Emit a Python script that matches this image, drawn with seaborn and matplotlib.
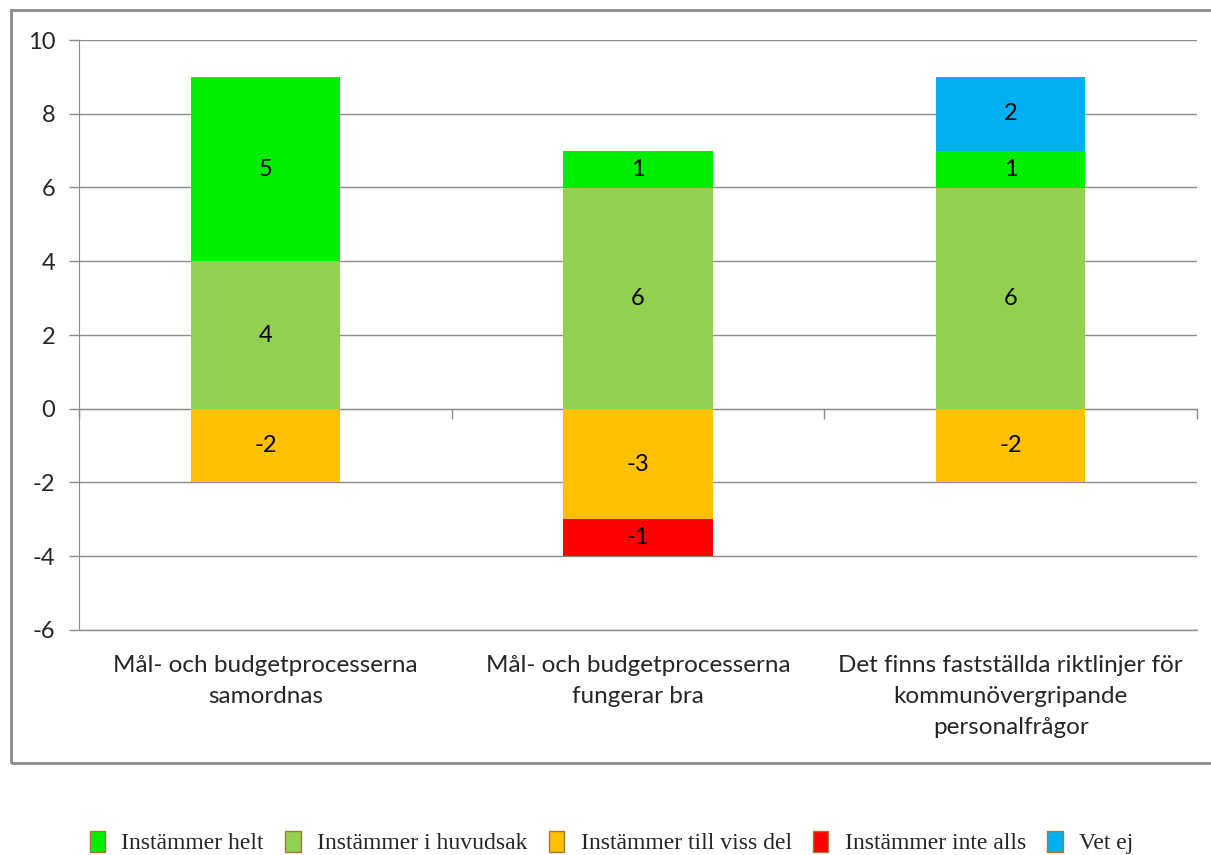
import numpy as np
import seaborn as sns
import matplotlib.pyplot as plt
from matplotlib.patches import Rectangle, Patch
from matplotlib.transforms import blended_transform_factory

##############
#### DATA ####
##############

categories = [
    "Mål- och budgetprocesserna\nsamordnas",
    "Mål- och budgetprocesserna\nfungerar bra",
    "Det finns fastställda riktlinjer för\nkommunövergripande\npersonalfrågor",
]
helt = [5, 1, 1]
huvudsak = [4, 6, 6]
viss_del = [-2, -3, -2]
inte_alls = [0, -1, 0]
vet_ej = [0, 0, 2]

series_names = ["Instämmer helt", "Instämmer i huvudsak", "Instämmer till viss del",
                "Instämmer inte alls", "Vet ej"]
colors = {"Instämmer helt": "#00EE00", "Instämmer i huvudsak": "#92D050",
          "Instämmer till viss del": "#FFC000", "Instämmer inte alls": "#FF0000",
          "Vet ej": "#00B0F0"}
y_ticks = [-6, -4, -2, 0, 2, 4, 6, 8, 10]

###############
#### STYLE ####
###############

sns.set_style("white")
plt.rcParams['font.family'] = ['Lato', 'DejaVu Sans']
grid_col = "#8C8C8C"

fig = plt.figure(figsize=(12.11, 8.55), dpi=100)
ax = fig.add_axes([79 / 1211, 1 - 630 / 855, (1197 - 79) / 1211, (630 - 40) / 855])

##############
#### BARS ####
##############

# positive stack: huvudsak -> helt -> vet ej ; negative stack: viss del -> inte alls
stacks = [
    ("Instämmer i huvudsak", huvudsak, np.zeros(3)),
    ("Instämmer helt", helt, np.array(huvudsak, dtype=float)),
    ("Vet ej", vet_ej, np.array(huvudsak, dtype=float) + np.array(helt)),
    ("Instämmer till viss del", viss_del, np.zeros(3)),
    ("Instämmer inte alls", inte_alls, np.array(viss_del, dtype=float)),
]

for name, vals, bottom in stacks:
    sns.barplot(x=categories, y=vals, bottom=bottom, color=colors[name], saturation=1,
                width=0.4, errorbar=None, order=categories, ax=ax, linewidth=0)
    cont = ax.containers[-1]
    ax.bar_label(cont, labels=[str(v) if v != 0 else "" for v in vals],
                 label_type="center", fontsize=17, color="black")

##############
#### AXES ####
##############

ax.set_xlim(-0.5, 2.5)
ax.set_ylim(-6, 10)
ax.set_yticks(y_ticks)
ax.set_yticklabels([str(t) for t in y_ticks], fontsize=17)
ax.yaxis.grid(True, color=grid_col, linewidth=1)
ax.axhline(-6, color=grid_col, linewidth=1, clip_on=False, zorder=0.4)
ax.set_axisbelow(True)
ax.tick_params(axis="y", length=7, color=grid_col, width=1, pad=10, left=True)

for s in ["top", "right"]:
    ax.spines[s].set_visible(False)
ax.spines["left"].set_color(grid_col)
ax.spines["bottom"].set_color(grid_col)
ax.spines["bottom"].set_position(("data", 0))
ax.spines["bottom"].set_zorder(0.5)

ax.set_xticks([-0.5, 0.5, 1.5, 2.5])
ax.set_xticklabels([])
ax.tick_params(axis="x", length=7, color=grid_col, width=1, bottom=True)
ax.set_xlabel("")
ax.set_ylabel("")

trans = blended_transform_factory(ax.transData, ax.transAxes)
for i, cat in enumerate(categories):
    ax.text(i, -0.042, cat, transform=trans, ha="center", va="top",
            fontsize=17.5, linespacing=1.6)

################
#### LEGEND ####
################

handles = [Patch(facecolor=colors[n], edgecolor="#A0783C", linewidth=1) for n in series_names]
fig.legend(handles, series_names, loc="lower center", bbox_to_anchor=(0.505, -0.024),
           ncol=5, frameon=False, handlelength=0.65, handleheight=1.0, columnspacing=0.9,
           handletextpad=0.7, prop={"family": "Liberation Serif", "size": 17})

# outer chart frame
fig.patches.append(Rectangle((11 / 1211, 1 - 763 / 855), 1.0, (763 - 10) / 855,
                             transform=fig.transFigure, fill=False,
                             edgecolor="#8C8C8C", linewidth=2))

plt.savefig("out.png", dpi=100)
plt.close()
